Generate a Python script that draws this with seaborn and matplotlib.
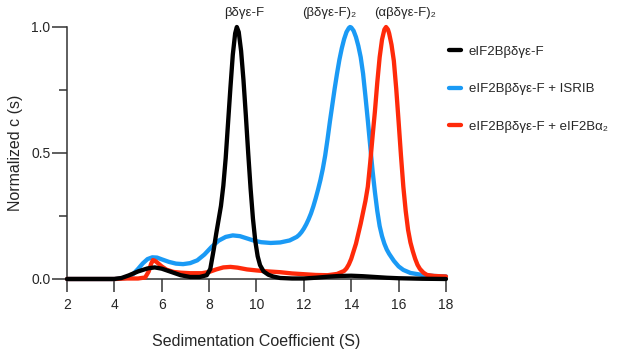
import matplotlib.pyplot as plt
import seaborn as sns
import pandas as pd

# data (sedimentation coefficient S vs normalized c(s))
labels = ['eIF2Bβδγε-F', 'eIF2Bβδγε-F + ISRIB', 'eIF2Bβδγε-F + eIF2Bα₂']
colors = ['#000000', '#1A9AF5', '#FF2A0A']

black_x = [2.0, 3.0, 4.0, 4.3, 4.6, 5.0, 5.4, 5.7, 6.0, 6.4, 6.8, 7.2, 7.6, 7.9, 8.05, 8.2, 8.3,
           8.4, 8.5, 8.6, 8.7, 8.8, 8.9, 9.0, 9.1, 9.17, 9.25, 9.35, 9.45, 9.55, 9.65, 9.75, 9.85,
           9.95, 10.05, 10.15, 10.3, 10.5, 10.7, 11.0, 11.5, 12.0, 12.5, 13.0, 13.5, 14.0, 14.5,
           15.0, 15.5, 16.0, 17.0, 18.0]
black_y = [0.0, 0.0, 0.0, 0.004, 0.014, 0.03, 0.042, 0.046, 0.041, 0.028, 0.015, 0.008, 0.008,
           0.015, 0.04, 0.12, 0.18, 0.235, 0.29, 0.37, 0.48, 0.62, 0.76, 0.89, 0.975, 1.0, 0.98,
           0.905, 0.79, 0.65, 0.5, 0.36, 0.24, 0.15, 0.09, 0.055, 0.03, 0.017, 0.01, 0.004, 0.002,
           0.002, 0.005, 0.009, 0.012, 0.013, 0.011, 0.008, 0.005, 0.003, 0.001, 0.0]

blue_x = [2.0, 4.0, 4.5, 4.8, 5.0, 5.2, 5.4, 5.6, 5.8, 6.0, 6.3, 6.6, 6.9, 7.2, 7.5, 7.8, 8.1,
          8.4, 8.7, 9.0, 9.3, 9.6, 9.9, 10.2, 10.6, 11.0, 11.4, 11.7, 11.8, 11.9, 12.0, 12.1,
          12.2, 12.3, 12.4, 12.5, 12.6, 12.7, 12.8, 12.9, 13.0, 13.1, 13.2, 13.3, 13.4, 13.5,
          13.6, 13.7, 13.8, 13.9, 13.95, 14.0, 14.1, 14.2, 14.3, 14.4, 14.5, 14.6, 14.7, 14.8,
          14.9, 15.0, 15.1, 15.2, 15.3, 15.4, 15.5, 15.6, 15.8, 16.0, 16.2, 16.5, 17.0, 17.5, 18.0]
blue_y = [0.0, 0.0, 0.004, 0.02, 0.04, 0.062, 0.079, 0.086, 0.085, 0.078, 0.068, 0.061, 0.059,
          0.063, 0.074, 0.097, 0.127, 0.152, 0.167, 0.173, 0.17, 0.161, 0.152, 0.146, 0.143,
          0.145, 0.153, 0.167, 0.175, 0.186, 0.2, 0.217, 0.237, 0.26, 0.288, 0.32, 0.355, 0.393,
          0.437, 0.49, 0.555, 0.625, 0.69, 0.755, 0.815, 0.87, 0.915, 0.952, 0.98, 0.996, 1.0,
          0.998, 0.985, 0.96, 0.925, 0.88, 0.815, 0.725, 0.63, 0.53, 0.43, 0.345, 0.27, 0.21,
          0.17, 0.14, 0.117, 0.1, 0.072, 0.05, 0.036, 0.024, 0.016, 0.012, 0.01]

red_x = [2.0, 4.0, 4.5, 5.0, 5.3, 5.45, 5.55, 5.63, 5.72, 5.85, 6.0, 6.2, 6.5, 6.8, 7.2, 7.7,
         8.0, 8.3, 8.6, 8.9, 9.2, 9.6, 10.0, 10.5, 11.0, 11.5, 12.0, 12.5, 13.0, 13.4, 13.7,
         13.8, 13.9, 14.0, 14.1, 14.2, 14.3, 14.4, 14.5, 14.6, 14.7, 14.8, 14.9, 15.0, 15.1,
         15.2, 15.3, 15.4, 15.47, 15.55, 15.6, 15.7, 15.8, 15.9, 16.0, 16.1, 16.2, 16.3, 16.4,
         16.5, 16.6, 16.7, 16.8, 16.9, 17.05, 17.2, 17.5, 18.0]
red_y = [0.0, 0.0, 0.002, 0.002, 0.006, 0.03, 0.06, 0.075, 0.072, 0.062, 0.05, 0.037, 0.028,
         0.025, 0.023, 0.023, 0.028, 0.038, 0.046, 0.048, 0.045, 0.038, 0.034, 0.03, 0.027,
         0.022, 0.019, 0.016, 0.015, 0.02, 0.032, 0.042, 0.058, 0.08, 0.11, 0.14, 0.18, 0.22,
         0.265, 0.31, 0.366, 0.46, 0.565, 0.665, 0.78, 0.88, 0.95, 0.99, 1.0, 0.99, 0.975, 0.93,
         0.865, 0.755, 0.625, 0.49, 0.366, 0.27, 0.195, 0.145, 0.11, 0.08, 0.056, 0.04, 0.025,
         0.016, 0.012, 0.01]

peak_names = ['βδγε-F', '(βδγε-F)₂', '(αβδγε-F)₂']
peak_pos = [9.5, 13.07, 16.27]

df = pd.concat([
    pd.DataFrame({'S': black_x, 'c': black_y, 'sample': labels[0]}),
    pd.DataFrame({'S': blue_x, 'c': blue_y, 'sample': labels[1]}),
    pd.DataFrame({'S': red_x, 'c': red_y, 'sample': labels[2]}),
])

sns.set_style('ticks')
plt.rcParams['font.family'] = ['Liberation Sans', 'DejaVu Sans']

fig = plt.figure(figsize=(6.17, 3.52), dpi=100)
ax = fig.add_axes([0.1086, 0.2074, 0.6142, 0.7159])

sns.lineplot(data=df, x='S', y='c', hue='sample', hue_order=labels, palette=colors,
             sort=False, estimator=None, lw=3.1, ax=ax, clip_on=False,
             solid_capstyle='round', solid_joinstyle='round')

# black on top, then red, blue at the bottom
for line, z in zip(ax.lines, [4, 2, 3]):
    line.set_zorder(z)

ax.set_xlim(2, 18)
ax.set_ylim(0, 1)
ax.set_xticks(range(2, 19, 2))
ax.set_yticks([0, 0.5, 1.0])
ax.set_yticklabels(['0.0', '0.5', '1.0'])
ax.set_yticks([0.25, 0.75], minor=True)
sns.despine(ax=ax)
for sp in ['left', 'bottom']:
    ax.spines[sp].set_color('#333333')
    ax.spines[sp].set_linewidth(1.1)
ax.tick_params(axis='x', length=9, width=1.1, pad=5, labelsize=10, color='#333333')
ax.tick_params(axis='y', which='major', length=11, width=1.1, pad=1, labelsize=10, color='#333333')
ax.tick_params(axis='y', which='minor', length=6, width=1.1, color='#333333')

ax.set_xlabel('Sedimentation Coefficient (S)', fontsize=11.5)
ax.set_ylabel('Normalized c (s)', fontsize=11.5)
ax.xaxis.set_label_coords(0.5, -0.25)
ax.xaxis.label.set_verticalalignment('center')
ax.yaxis.set_label_coords(-0.135, 0.5)
ax.yaxis.label.set_verticalalignment('center')

for name, xp in zip(peak_names, peak_pos):
    ax.text(xp, 1.056, name, ha='center', va='center', fontsize=9.5, clip_on=False)

handles, labs = ax.get_legend_handles_labels()
ax.legend(handles, labs, loc='upper left', bbox_to_anchor=(0.728, 0.87),
          bbox_transform=fig.transFigure, frameon=False, fontsize=9.5,
          handlelength=0.9, handletextpad=0.6, labelspacing=1.9,
          borderpad=0, borderaxespad=0)

plt.savefig('out.png', dpi=100)
